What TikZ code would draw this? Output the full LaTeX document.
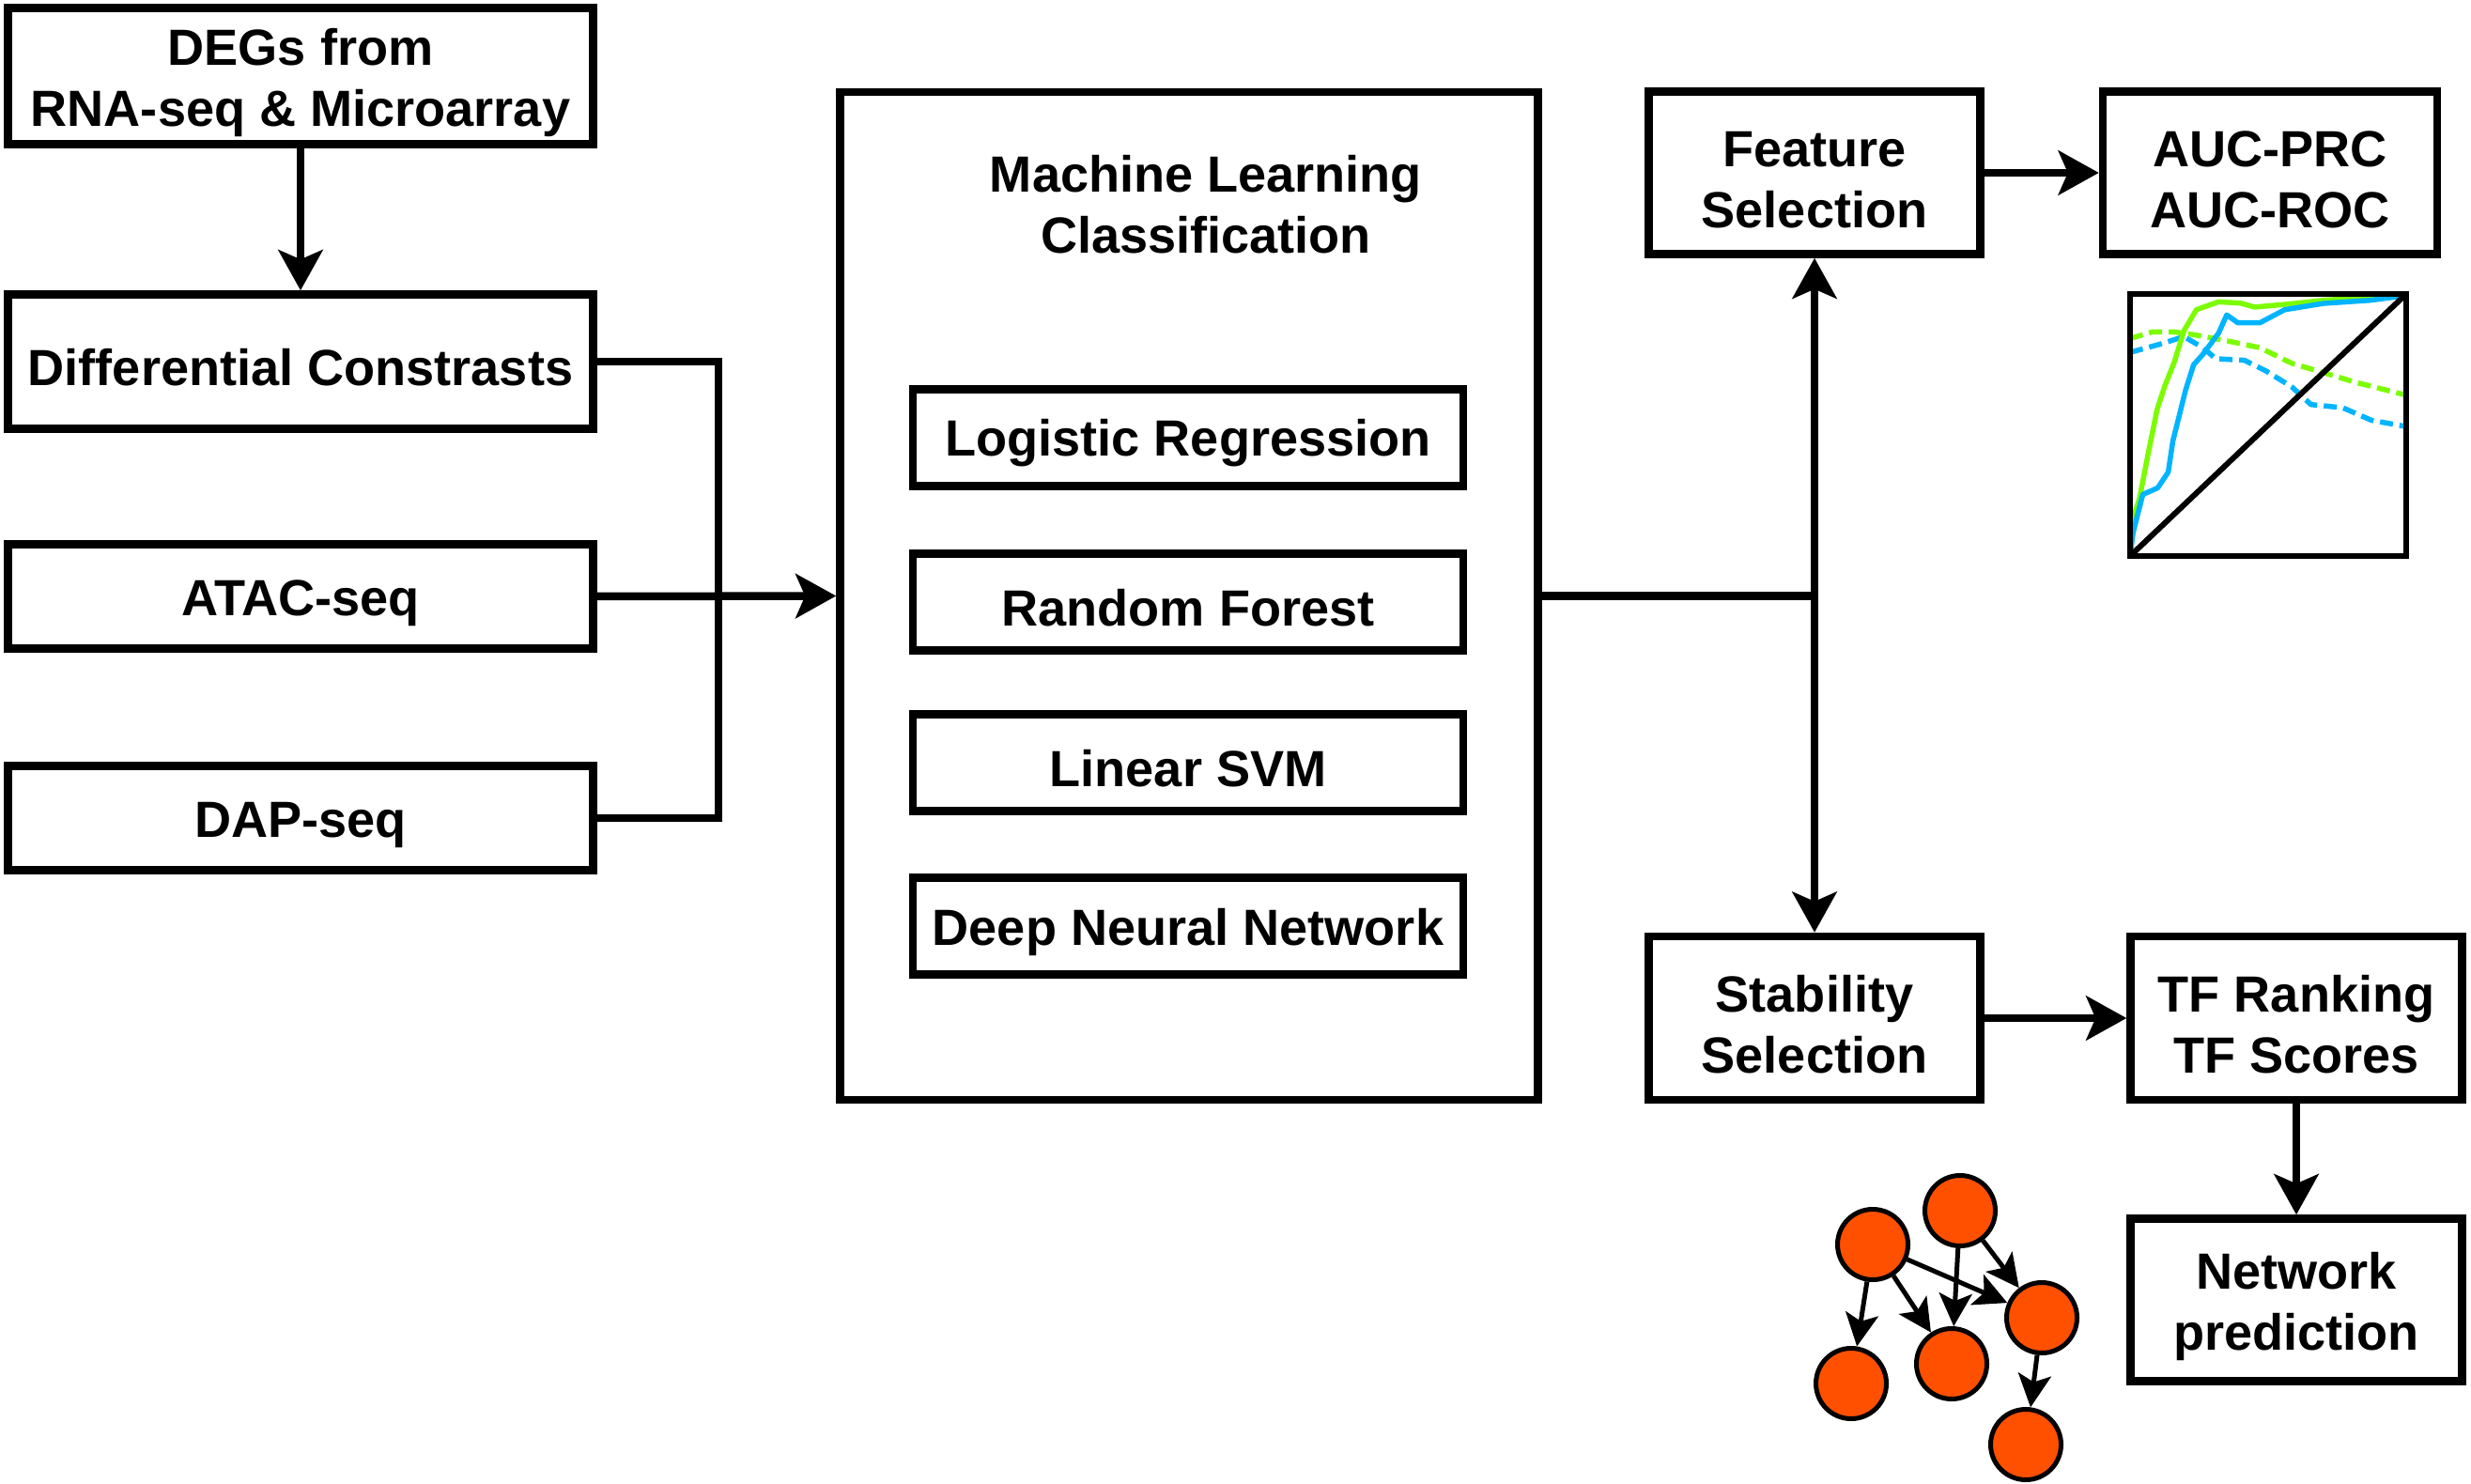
\documentclass[tikz,border=0pt]{standalone}
\usepackage{fontspec}
\setmainfont{Liberation Sans}
\usetikzlibrary{arrows.meta}
\definecolor{Lime}{HTML}{7CFC00}
\definecolor{Sky}{HTML}{00B4FF}
\definecolor{Gene}{HTML}{FF5000}

\begin{document}
\begin{tikzpicture}[>={Stealth[length=4.3mm,width=4.7mm,inset=1mm]},
    box/.style={draw,line width=0.85mm,align=center,inner sep=0pt,font=\bfseries\fontsize{15.4}{18.5}\selectfont,
      execute at begin node={\rule{0pt}{0.95em}}},
    pair/.style={box,execute at begin node={\rule{0pt}{33.6pt}}},
    heading/.style={align=center,font=\bfseries\fontsize{15.4}{18.5}\selectfont},
    link/.style={line width=0.85mm},
    gene/.style={circle,draw,fill=Gene,line width=0.5mm,minimum size=7.5mm,inner sep=0pt},
    edge/.style={line width=0.5mm,-{Stealth[length=3.5mm,width=3.5mm,inset=0.8mm]}},
    curve/.style={line width=0.55mm,line join=round}]
    \useasboundingbox (0,0) rectangle (26.31,-15.80);
    % inputs
    \node[pair,minimum width=62.3mm,minimum height=14.5mm] (degs) at (3.20,-0.81) {DEGs from\\RNA-seq \& Microarray};
    \node[box,minimum width=62.3mm,minimum height=14.3mm] (diff) at (3.20,-3.85) {Differential Constrasts};
    \node[box,minimum width=62.3mm,minimum height=11.1mm] (atac) at (3.20,-6.35) {ATAC-seq};
    \node[box,minimum width=62.3mm,minimum height=11.1mm] (dap) at (3.20,-8.71) {DAP-seq};
    % classifiers
    \node[box,minimum width=74.3mm,minimum height=107.3mm] (ml) at (12.66,-6.345) {};
    \node[heading] (mlt) at (12.84,-2.18) {Machine Learning\\Classification};
    \node[box,minimum width=58.6mm,minimum height=10.3mm] (lr) at (12.65,-4.66) {Logistic Regression};
    \node[box,minimum width=58.6mm,minimum height=10.3mm] (rf) at (12.65,-6.41) {Random Forest};
    \node[box,minimum width=58.6mm,minimum height=10.3mm] (svm) at (12.65,-8.12) {Linear SVM};
    \node[box,minimum width=58.6mm,minimum height=10.3mm] (dnn) at (12.65,-9.86) {Deep Neural Network};
    % outputs
    \node[pair,minimum width=35.3mm,minimum height=17.3mm] (feat) at (19.32,-1.84) {Feature\\Selection};
    \node[pair,minimum width=35.6mm,minimum height=17.3mm] (auc) at (24.17,-1.84) {AUC-PRC\\AUC-ROC};
    \node[pair,minimum width=35.3mm,minimum height=17.4mm] (stab) at (19.32,-10.84) {Stability\\Selection};
    \node[pair,minimum width=35.3mm,minimum height=17.4mm] (tf) at (24.45,-10.84) {TF Ranking\\TF Scores};
    \node[pair,minimum width=35.3mm,minimum height=17.3mm] (net) at (24.45,-13.84) {Network\\prediction};
    % connectors
    \coordinate (join) at (7.65,-6.35);
    \coordinate (split) at (19.32,-6.345);
    \draw[link,->] (degs) -- (diff);
    \draw[link] (diff.east) -| (join) |- (dap.east);
    \draw[link,->] (atac.east) -- (ml.west);
    \draw[link] (ml.east) -- (split);
    \draw[link,->] (split) -- (feat.south);
    \draw[link,->] (split) -- (stab.north);
    \draw[link,->] (feat) -- (auc);
    \draw[link,->] (stab) -- (tf);
    \draw[link,->] (tf) -- (net);
    % curves
    \begin{scope}[shift={(22.68,-5.92)},x=2.94cm,y=2.79cm]
      \draw[curve,Lime,dash pattern=on 1.4mm off 0.7mm] plot coordinates {(0,0.83) (0.08,0.855) (0.16,0.855) (0.24,0.843) (0.356,0.82) (0.47,0.795) (0.586,0.735) (0.70,0.70) (0.816,0.663) (1,0.614)};
      \draw[curve,Sky,dash pattern=on 1.4mm off 0.7mm] plot coordinates {(0,0.777) (0.103,0.807) (0.195,0.837) (0.264,0.795) (0.31,0.753) (0.414,0.747) (0.494,0.705) (0.586,0.645) (0.655,0.578) (0.77,0.566) (0.874,0.518) (1,0.494)};
      \draw[curve,Lime] plot coordinates {(0,0) (0.006,0.127) (0.034,0.22) (0.069,0.41) (0.098,0.56) (0.126,0.65) (0.16,0.74) (0.195,0.86) (0.24,0.94) (0.32,0.97) (0.40,0.965) (0.45,0.95) (0.56,0.96) (0.70,0.976) (0.87,0.988) (1,0.996)};
      \draw[curve,Sky] plot coordinates {(0,0) (0.011,0.09) (0.046,0.235) (0.10,0.26) (0.138,0.32) (0.155,0.44) (0.178,0.536) (0.20,0.63) (0.23,0.73) (0.264,0.77) (0.32,0.85) (0.35,0.92) (0.39,0.89) (0.47,0.89) (0.56,0.94) (0.70,0.964) (0.87,0.976) (1,0.994)};
      \draw[line width=0.6mm] (0,0) -- (1,1);
      \draw[line width=0.6mm] (0,0) rectangle (1,1);
    \end{scope}
    % network
    \node[gene] (g1) at (19.94,-13.25) {};
    \node[gene] (g2) at (20.87,-12.89) {};
    \node[gene] (g3) at (21.74,-14.03) {};
    \node[gene] (g4) at (19.71,-14.73) {};
    \node[gene] (g5) at (20.78,-14.52) {};
    \node[gene] (g6) at (21.57,-15.38) {};
    \draw[edge] (g1) -- (g4);
    \draw[edge] (g1) -- (g5);
    \draw[edge] (g1) -- (g3);
    \draw[edge] (g2) -- (g5);
    \draw[edge] (g2) -- (g3);
    \draw[edge] (g3) -- (g6);
  \end{tikzpicture}
\end{document}
